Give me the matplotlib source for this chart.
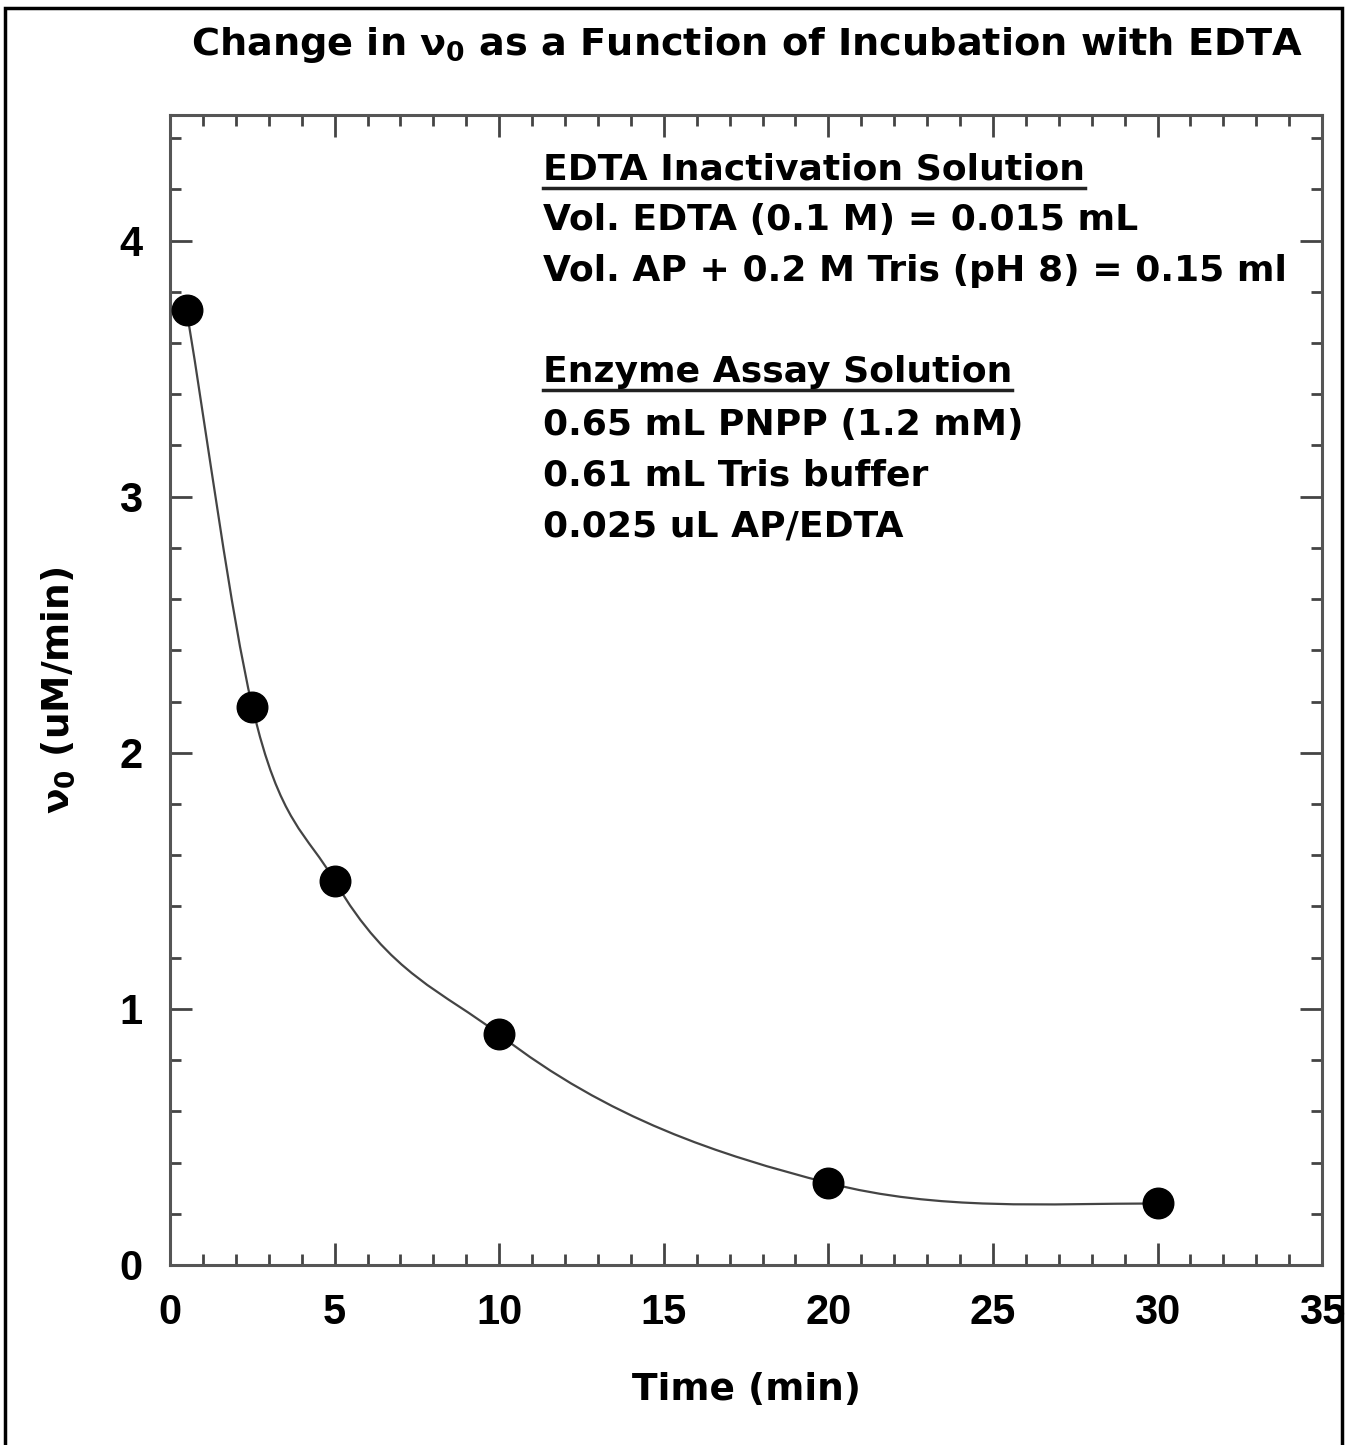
import numpy as np
import matplotlib.pyplot as plt
from matplotlib.path import Path
from matplotlib.patches import PathPatch, Rectangle
from matplotlib.lines import Line2D
from matplotlib.ticker import MultipleLocator

plt.rcParams['font.family'] = ['Liberation Sans', 'DejaVu Sans']
plt.rcParams['font.weight'] = 'bold'
plt.rcParams['mathtext.fontset'] = 'custom'
plt.rcParams['mathtext.rm'] = 'DejaVu Sans:bold'
plt.rcParams['mathtext.it'] = 'DejaVu Sans:bold'
plt.rcParams['mathtext.bf'] = 'DejaVu Sans:bold'
WIDE = ['DejaVu Sans']

# Data
time_min = [0.5, 2.5, 5, 10, 20, 30]
v0 = [3.73, 2.18, 1.5, 0.9, 0.32, 0.24]

notes_head1 = "EDTA Inactivation Solution"
notes_body1 = ["Vol. EDTA (0.1 M) = 0.015 mL",
               "Vol. AP + 0.2 M Tris (pH 8) = 0.15 ml"]
notes_head2 = "Enzyme Assay Solution"
notes_body2 = ["0.65 mL PNPP (1.2 mM)",
               "0.61 mL Tris buffer",
               "0.025 uL AP/EDTA"]

fig = plt.figure(figsize=(13.56, 14.45), dpi=100)
ax = fig.add_axes([0.1254, 0.1246, 0.975 - 0.1254, 0.9204 - 0.1246])

# frame round the whole picture (bottom edge falls outside)
fig.patches.append(Rectangle((0.0035, -0.01), 0.9865, 1.0045, transform=fig.transFigure,
                             fill=False, lw=2.5, ec='black'))

# smooth curve through the points (cubic bezier segments)
x = np.array(time_min, float)
y = np.array(v0, float)
sec = np.diff(y) / np.diff(x)
m = np.zeros_like(y)
m[0] = sec[0]
m[-1] = 0.0
for i in range(1, len(x) - 1):
    h0, h1 = x[i] - x[i - 1], x[i + 1] - x[i]
    m[i] = (h1 * sec[i - 1] + h0 * sec[i]) / (h0 + h1)
verts = [(x[0], y[0])]
codes = [Path.MOVETO]
for i in range(len(x) - 1):
    h = x[i + 1] - x[i]
    verts += [(x[i] + h / 3, y[i] + m[i] * h / 3),
              (x[i + 1] - h / 3, y[i + 1] - m[i + 1] * h / 3),
              (x[i + 1], y[i + 1])]
    codes += [Path.CURVE4] * 3
ax.add_patch(PathPatch(Path(verts, codes), fill=False, ec='#444444', lw=1.6))

ax.plot(time_min, v0, 'o', color='black', markersize=22, zorder=3)

ax.set_xlim(0, 35)
ax.set_ylim(0, 4.49)
ax.xaxis.set_major_locator(MultipleLocator(5))
ax.xaxis.set_minor_locator(MultipleLocator(1))
ax.yaxis.set_major_locator(MultipleLocator(1))
ax.yaxis.set_minor_locator(MultipleLocator(0.2))
ax.tick_params(which='both', direction='in', top=True, right=True, color='#444444')
ax.tick_params(which='major', length=16, width=2, labelsize=30, pad=20)
ax.tick_params(axis='y', which='major', pad=20)
ax.tick_params(which='minor', length=8, width=2)
for s in ax.spines.values():
    s.set_color('#555555')
    s.set_linewidth(2.2)

ax.set_xlabel("Time (min)", fontsize=27, fontweight='bold', family=WIDE, labelpad=28)
ax.set_ylabel(r"$\nu_0$ (uM/min)", fontsize=27, fontweight='bold', family=WIDE, labelpad=30)
fig.text(0.551, 0.969, r"Change in $\nu_0$ as a Function of Incubation with EDTA",
         ha='center', va='center', fontsize=27.5, fontweight='bold', family=WIDE)

# notes inside the plot
tx = 543 / 1356
lines = [(notes_head1, True, 170)] + [(t, False, 220 + 51 * k) for k, t in enumerate(notes_body1)] \
    + [(notes_head2, True, 372)] + [(t, False, 425 + 51 * k) for k, t in enumerate(notes_body2)]
texts = []
for t, underline, ypix in lines:
    tt = fig.text(tx, 1 - ypix / 1445, t, ha='left', va='center', fontsize=26,
                  fontweight='bold', family=WIDE)
    texts.append((tt, underline))

fig.canvas.draw()
r = fig.canvas.get_renderer()
for tt, underline in texts:
    if underline:
        bb = tt.get_window_extent(r).transformed(fig.transFigure.inverted())
        fig.lines.append(Line2D([bb.x0, bb.x1], [bb.y0 - 0.001, bb.y0 - 0.001],
                                transform=fig.transFigure, color='#222222', lw=2.5))

fig.savefig("out.png", dpi=100)
